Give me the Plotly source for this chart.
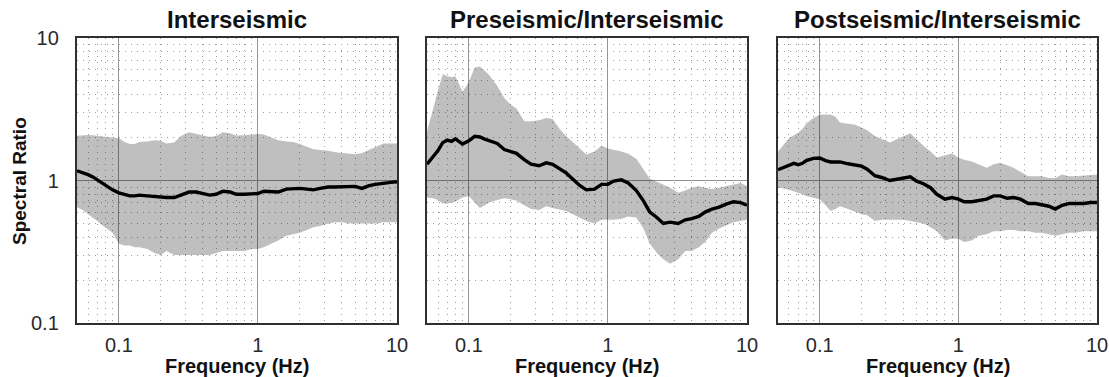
import plotly.graph_objects as go

# Frequencies (Hz) shared by all panels
freq = [0.05, 0.055, 0.06, 0.065, 0.07, 0.075, 0.08, 0.09, 0.1, 0.11,
        0.12, 0.13, 0.14, 0.16, 0.18, 0.2, 0.22, 0.25, 0.28, 0.32,
        0.36, 0.4, 0.45, 0.5, 0.56, 0.63, 0.7, 0.8, 0.9, 1.0,
        1.1, 1.25, 1.4, 1.6, 1.8, 2.0, 2.25, 2.5, 2.8, 3.2,
        3.6, 4.0, 4.5, 5.0, 5.6, 6.3, 7.0, 8.0, 9.0, 10.0]

# Panel 1: Interseismic
inter_mean = [1.17, 1.14, 1.10, 1.06, 1.01, 0.96, 0.92, 0.86, 0.82, 0.80,
              0.78, 0.78, 0.79, 0.78, 0.77, 0.77, 0.76, 0.76, 0.79, 0.83,
              0.83, 0.81, 0.79, 0.80, 0.84, 0.83, 0.80, 0.80, 0.80, 0.81,
              0.84, 0.84, 0.83, 0.87, 0.88, 0.88, 0.87, 0.86, 0.88, 0.90,
              0.90, 0.90, 0.91, 0.91, 0.88, 0.92, 0.94, 0.96, 0.97, 0.98]
inter_upper = [2.06, 2.08, 2.09, 2.08, 2.06, 2.04, 2.03, 2.01, 1.98, 1.86,
               1.80, 1.80, 1.86, 1.88, 1.92, 1.90, 1.82, 1.85, 2.05, 2.18,
               2.12, 2.07, 2.02, 2.05, 2.18, 2.15, 2.07, 2.08, 2.10, 2.12,
               2.10, 2.00, 1.92, 1.88, 1.86, 1.80, 1.72, 1.66, 1.64, 1.62,
               1.58, 1.56, 1.54, 1.53, 1.56, 1.64, 1.72, 1.82, 1.82, 1.82]
inter_lower = [0.65, 0.62, 0.58, 0.55, 0.52, 0.49, 0.47, 0.43, 0.36, 0.35,
               0.35, 0.34, 0.34, 0.33, 0.31, 0.30, 0.32, 0.30, 0.30, 0.30,
               0.30, 0.30, 0.30, 0.31, 0.32, 0.32, 0.32, 0.32, 0.33, 0.33,
               0.34, 0.36, 0.38, 0.41, 0.42, 0.43, 0.45, 0.47, 0.48, 0.50,
               0.51, 0.51, 0.50, 0.50, 0.50, 0.50, 0.50, 0.51, 0.51, 0.51]

# Panel 2: Preseismic/Interseismic
pre_mean = [1.30, 1.45, 1.62, 1.85, 1.92, 1.88, 1.96, 1.80, 1.90, 2.04,
            2.02, 1.95, 1.90, 1.82, 1.65, 1.60, 1.55, 1.40, 1.30, 1.27,
            1.33, 1.30, 1.20, 1.13, 1.02, 0.92, 0.86, 0.87, 0.94, 0.94,
            0.99, 1.01, 0.96, 0.85, 0.72, 0.60, 0.55, 0.50, 0.51, 0.50,
            0.53, 0.54, 0.56, 0.60, 0.63, 0.65, 0.68, 0.71, 0.70, 0.67]
pre_upper = [2.2, 3.2, 4.3, 5.6, 5.4, 5.3, 5.4, 4.2, 4.9, 6.2,
             6.3, 5.9, 5.5, 4.6, 3.8, 3.4, 3.2, 2.6, 2.6, 2.65,
             2.75, 2.7, 2.3, 2.05, 1.85, 1.65, 1.52, 1.6, 1.75, 1.68,
             1.65, 1.6, 1.54, 1.42, 1.2, 1.03, 0.98, 0.93, 0.89, 0.82,
             0.85, 0.89, 0.91, 0.89, 0.87, 0.89, 0.91, 0.93, 0.96, 0.91]
pre_lower = [0.76, 0.75, 0.73, 0.69, 0.69, 0.70, 0.71, 0.76, 0.78, 0.70,
             0.64, 0.67, 0.70, 0.73, 0.75, 0.74, 0.72, 0.67, 0.63, 0.62,
             0.66, 0.64, 0.62, 0.61, 0.58, 0.55, 0.52, 0.50, 0.53, 0.53,
             0.53, 0.54, 0.56, 0.55, 0.46, 0.36, 0.31, 0.28, 0.26, 0.28,
             0.32, 0.32, 0.34, 0.37, 0.43, 0.46, 0.48, 0.51, 0.52, 0.53]

# Panel 3: Postseismic/Interseismic
post_mean = [1.19, 1.24, 1.28, 1.32, 1.29, 1.32, 1.38, 1.43, 1.44, 1.38,
             1.35, 1.35, 1.35, 1.31, 1.28, 1.26, 1.20, 1.08, 1.05, 1.00,
             1.02, 1.04, 1.06, 0.99, 0.95, 0.89, 0.80, 0.74, 0.76, 0.74,
             0.71, 0.71, 0.72, 0.74, 0.78, 0.78, 0.75, 0.76, 0.74, 0.69,
             0.69, 0.68, 0.66, 0.63, 0.67, 0.69, 0.69, 0.69, 0.70, 0.70]
post_upper = [1.60, 1.80, 1.98, 2.08, 2.16, 2.30, 2.50, 2.75, 2.89, 2.90,
              2.89, 2.80, 2.55, 2.50, 2.46, 2.35, 2.25, 2.05, 1.95, 1.85,
              1.95, 2.05, 2.15, 1.95, 1.75, 1.60, 1.45, 1.50, 1.55, 1.45,
              1.40, 1.36, 1.30, 1.23, 1.30, 1.33, 1.28, 1.23, 1.15, 1.07,
              1.07, 1.07, 1.04, 1.04, 1.10, 1.07, 1.07, 1.08, 1.10, 1.10]
post_lower = [0.89, 0.88, 0.86, 0.84, 0.82, 0.80, 0.78, 0.76, 0.74, 0.67,
              0.61, 0.63, 0.66, 0.63, 0.60, 0.58, 0.57, 0.52, 0.53, 0.53,
              0.53, 0.53, 0.52, 0.51, 0.50, 0.47, 0.44, 0.38, 0.39, 0.39,
              0.37, 0.38, 0.41, 0.42, 0.44, 0.44, 0.45, 0.45, 0.44, 0.44,
              0.43, 0.43, 0.42, 0.41, 0.42, 0.43, 0.43, 0.44, 0.44, 0.44]

titles = ["Interseismic", "Preseismic/Interseismic", "Postseismic/Interseismic"]
x_tick_vals = [0.1, 1, 10]
x_tick_text = ["0.1", "1", "10"]
y_tick_vals = [0.1, 1, 10]
y_tick_text = ["0.1", "1", "10"]
x_minor = [0.06, 0.07, 0.08, 0.09, 0.2, 0.3, 0.4, 0.5, 0.6, 0.7, 0.8, 0.9,
           2, 3, 4, 5, 6, 7, 8, 9]
y_minor = [0.2, 0.3, 0.4, 0.5, 0.6, 0.7, 0.8, 0.9, 2, 3, 4, 5, 6, 7, 8, 9]

panels = [(inter_mean, inter_upper, inter_lower),
          (pre_mean, pre_upper, pre_lower),
          (post_mean, post_upper, post_lower)]

W, H = 1109, 377
dom_px = [(77, 397), (427, 747), (778, 1097)]
y_top, y_bot = 38, 323

FONT = "Liberation Sans, Arial, Helvetica, sans-serif"
fig = go.Figure()

for i, (mean, up, lo) in enumerate(panels):
    sfx = "" if i == 0 else str(i + 1)
    xa, ya = "x" + sfx, "y" + sfx
    fig.add_trace(go.Scatter(x=freq, y=up, mode="lines", line=dict(width=0),
                             xaxis=xa, yaxis=ya, showlegend=False, hoverinfo="skip"))
    fig.add_trace(go.Scatter(x=freq, y=lo, mode="lines", line=dict(width=0),
                             fill="tonexty", fillcolor="rgba(0,0,0,0.25)",
                             xaxis=xa, yaxis=ya, showlegend=False, hoverinfo="skip"))
    fig.add_trace(go.Scatter(x=freq, y=mean, mode="lines",
                             line=dict(color="black", width=3.4),
                             xaxis=xa, yaxis=ya, showlegend=False))

    x0, x1 = dom_px[i]
    xdom = [x0 / W, x1 / W]
    ydom = [1 - y_bot / H, 1 - y_top / H]
    common = dict(showline=True, linecolor="#303030", linewidth=2.4, mirror=True,
                  ticks="", showgrid=True, gridcolor="#959595", gridwidth=1.2,
                  zeroline=False, automargin=False,
                  tickfont=dict(family=FONT, size=20, color="#2a2a2a"))
    fig.layout["xaxis" + sfx] = dict(
        common, type="log", range=[-1.30103, 1], domain=xdom, anchor=ya,
        tickmode="array", tickvals=x_tick_vals, ticktext=x_tick_text,
        ticklabelstandoff=3,
        minor=dict(tickmode="array", tickvals=x_minor, showgrid=True,
                   gridcolor="#9c9c9c", gridwidth=1, griddash="1px,5px"))
    fig.layout["yaxis" + sfx] = dict(
        common, type="log", range=[-1, 1], domain=ydom, anchor=xa,
        tickmode="array", tickvals=y_tick_vals, ticktext=y_tick_text,
        showticklabels=(i == 0), ticklabelstandoff=12,
        minor=dict(tickmode="array", tickvals=y_minor, showgrid=True,
                   gridcolor="#9c9c9c", gridwidth=1, griddash="1px,5px"))

    cx = (x0 + x1) / 2 / W
    fig.add_annotation(text="<b>" + titles[i] + "</b>", x=cx, y=1 - 19 / H,
                       xref="paper", yref="paper", showarrow=False,
                       xanchor="center", yanchor="middle",
                       font=dict(family=FONT, size=24, color="#111111"))
    fig.add_annotation(text="<b>Frequency (Hz)</b>", x=cx, y=1 - 366 / H,
                       xref="paper", yref="paper", showarrow=False,
                       xanchor="center", yanchor="middle",
                       font=dict(family=FONT, size=20, color="#111111"))

fig.add_annotation(text="<b>Spectral Ratio</b>", x=20 / W, y=1 - 181 / H,
                   xref="paper", yref="paper", showarrow=False, textangle=-90,
                   xanchor="center", yanchor="middle",
                   font=dict(family=FONT, size=19, color="#111111"))

fig.update_layout(width=W, height=H, margin=dict(l=0, r=0, t=0, b=0),
                  paper_bgcolor="white", plot_bgcolor="white")

fig.write_html("out.html")
